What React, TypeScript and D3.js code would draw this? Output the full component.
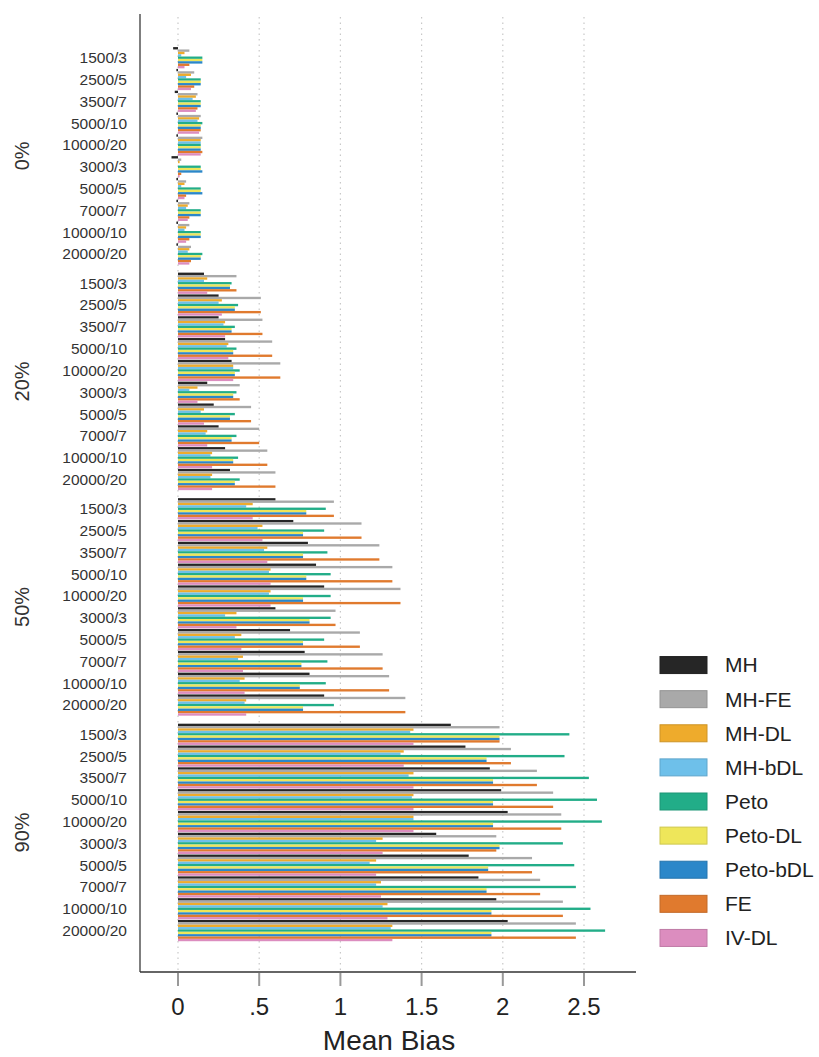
import React from 'react';
import * as d3 from 'd3';

const groups = ['0%', '20%', '50%', '90%'];
const categories = ['1500/3', '2500/5', '3500/7', '5000/10', '10000/20', '3000/3', '5000/5', '7000/7', '10000/10', '20000/20'];
const seriesNames = ['MH', 'MH-FE', 'MH-DL', 'MH-bDL', 'Peto', 'Peto-DL', 'Peto-bDL', 'FE', 'IV-DL'];
const seriesColors = ['#262626', '#a9a9a9', '#eeab2c', '#6ec0ea', '#22ad88', '#eee65a', '#2b87c9', '#e07a2e', '#dc8dbf'];
const xTicks = [0, 0.5, 1, 1.5, 2, 2.5];

// values per series, 40 each: groups 0%, 20%, 50%, 90% x 10 categories
const mh = [
  -0.03, -0.01, -0.02, -0.01, -0.01, -0.04, -0.01, -0.01, -0.01, -0.01,
  0.16, 0.25, 0.25, 0.29, 0.33, 0.18, 0.22, 0.25, 0.29, 0.32,
  0.60, 0.71, 0.80, 0.85, 0.90, 0.60, 0.69, 0.78, 0.81, 0.90,
  1.68, 1.77, 1.92, 1.99, 2.03, 1.59, 1.79, 1.85, 1.96, 2.03,
];
const mhFe = [
  0.07, 0.10, 0.12, 0.14, 0.15, 0.02, 0.05, 0.07, 0.07, 0.08,
  0.36, 0.51, 0.52, 0.58, 0.63, 0.38, 0.45, 0.50, 0.55, 0.60,
  0.96, 1.13, 1.24, 1.32, 1.37, 0.97, 1.12, 1.26, 1.30, 1.40,
  1.98, 2.05, 2.21, 2.31, 2.36, 1.96, 2.18, 2.23, 2.37, 2.45,
];
const mhDl = [
  0.04, 0.08, 0.11, 0.13, 0.14, 0.01, 0.04, 0.06, 0.05, 0.07,
  0.18, 0.27, 0.29, 0.31, 0.34, 0.12, 0.16, 0.18, 0.21, 0.21,
  0.46, 0.52, 0.55, 0.57, 0.57, 0.36, 0.39, 0.40, 0.41, 0.42,
  1.45, 1.39, 1.45, 1.45, 1.45, 1.26, 1.22, 1.25, 1.29, 1.32,
];
const mhBdl = [
  0.02, 0.05, 0.09, 0.12, 0.14, 0.00, 0.02, 0.05, 0.04, 0.06,
  0.16, 0.25, 0.28, 0.30, 0.34, 0.07, 0.14, 0.17, 0.20, 0.20,
  0.42, 0.49, 0.53, 0.56, 0.56, 0.29, 0.35, 0.37, 0.38, 0.41,
  1.43, 1.37, 1.42, 1.44, 1.45, 1.22, 1.18, 1.22, 1.26, 1.31,
];
const peto = [
  0.15, 0.14, 0.14, 0.15, 0.14, 0.14, 0.14, 0.14, 0.14, 0.15,
  0.33, 0.37, 0.35, 0.36, 0.38, 0.36, 0.35, 0.36, 0.37, 0.38,
  0.91, 0.90, 0.92, 0.94, 0.94, 0.94, 0.90, 0.92, 0.91, 0.96,
  2.41, 2.38, 2.53, 2.58, 2.61, 2.37, 2.44, 2.45, 2.54, 2.63,
];
const petoDl = [
  0.15, 0.14, 0.14, 0.14, 0.14, 0.14, 0.14, 0.14, 0.14, 0.14,
  0.32, 0.35, 0.33, 0.34, 0.35, 0.34, 0.32, 0.33, 0.34, 0.35,
  0.79, 0.77, 0.77, 0.79, 0.77, 0.81, 0.77, 0.76, 0.75, 0.77,
  1.98, 1.90, 1.94, 1.94, 1.94, 1.98, 1.91, 1.90, 1.93, 1.93,
];
const petoBdl = [
  0.15, 0.14, 0.14, 0.14, 0.14, 0.15, 0.15, 0.14, 0.14, 0.14,
  0.32, 0.35, 0.33, 0.34, 0.35, 0.34, 0.32, 0.33, 0.34, 0.35,
  0.79, 0.77, 0.77, 0.79, 0.77, 0.81, 0.77, 0.76, 0.75, 0.77,
  1.98, 1.90, 1.94, 1.94, 1.94, 1.98, 1.91, 1.90, 1.93, 1.93,
];
const fe = [
  0.07, 0.10, 0.12, 0.14, 0.15, 0.02, 0.05, 0.07, 0.07, 0.08,
  0.36, 0.51, 0.52, 0.58, 0.63, 0.38, 0.45, 0.50, 0.55, 0.60,
  0.96, 1.13, 1.24, 1.32, 1.37, 0.97, 1.12, 1.26, 1.30, 1.40,
  1.98, 2.05, 2.21, 2.31, 2.36, 1.96, 2.18, 2.23, 2.37, 2.45,
];
const ivDl = [
  0.04, 0.08, 0.11, 0.13, 0.14, 0.01, 0.04, 0.06, 0.05, 0.07,
  0.18, 0.27, 0.29, 0.31, 0.34, 0.12, 0.16, 0.18, 0.21, 0.21,
  0.46, 0.52, 0.55, 0.57, 0.57, 0.36, 0.39, 0.40, 0.41, 0.42,
  1.45, 1.39, 1.45, 1.45, 1.45, 1.26, 1.22, 1.25, 1.29, 1.32,
];
const seriesValues = [mh, mhFe, mhDl, mhBdl, peto, petoDl, petoBdl, fe, ivDl];

const W = 819;
const H = 1057;
const FONT = '"Liberation Sans", Arial, sans-serif';

const App: React.FC = () => {
  const axisLeft = 140;
  const axisRight = 636;
  const axisTop = 14;
  const axisBottom = 972;

  const x = d3.scaleLinear().domain([0, 2.5]).range([178, 584]);
  const yGroup = d3.scaleBand<string>().domain(groups).range([46.8, 941.5]).paddingInner(0.033);
  const yCat = d3.scaleBand<string>().domain(categories).range([0, yGroup.bandwidth()]);
  const ySeries = d3.scaleBand<string>().domain(seriesNames).range([0, yCat.bandwidth()]).paddingOuter(0.12);

  const fmt = (d: number) => d3.format('')(d).replace(/^0\./, '.');

  const legendY = d3.scaleBand<string>().domain(seriesNames).range([648, 955]);

  return (
    <svg width={W} height={H} style={{ position: 'absolute', left: 0, top: 0, background: '#fff' }} fontFamily={FONT}>
      {/* grid */}
      {xTicks.map((t) => (
        <line key={'g' + t} x1={x(t)} x2={x(t)} y1={axisTop + 3} y2={axisBottom - 2}
          stroke="#c8c8c8" strokeWidth={1.2} strokeDasharray="1.5 4" />
      ))}

      {/* bars */}
      {groups.map((g, gi) =>
        categories.map((c, ci) =>
          seriesNames.map((s, si) => {
            const v = seriesValues[si][gi * categories.length + ci];
            const y0 = (yGroup(g) as number) + (yCat(c) as number) + (ySeries(s) as number);
            return (
              <rect key={g + c + s} x={Math.min(x(0), x(v))} width={Math.abs(x(v) - x(0))}
                y={y0} height={ySeries.bandwidth()} fill={seriesColors[si]} />
            );
          })
        )
      )}

      {/* category labels */}
      {groups.map((g) =>
        categories.map((c) => (
          <text key={'l' + g + c} x={127} y={(yGroup(g) as number) + (yCat(c) as number) + yCat.bandwidth() / 2}
            dy="0.35em" textAnchor="end" fontSize={15.5} fill="#333">{c}</text>
        ))
      )}

      {/* group labels */}
      {groups.map((g) => {
        const cy = (yGroup(g) as number) + yGroup.bandwidth() / 2;
        return (
          <text key={'gl' + g} transform={`translate(22,${cy}) rotate(-90)`} textAnchor="middle"
            dy="0.35em" fontSize={20} fill="#333">{g}</text>
        );
      })}

      {/* axes */}
      <line x1={axisLeft} x2={axisLeft} y1={axisTop} y2={axisBottom} stroke="#555" strokeWidth={1.5} />
      <line x1={axisLeft} x2={axisRight} y1={axisBottom} y2={axisBottom} stroke="#333" strokeWidth={1.5} />
      {xTicks.map((t) => (
        <g key={'t' + t}>
          <line x1={x(t)} x2={x(t)} y1={axisBottom + 1} y2={axisBottom + 14} stroke="#999" strokeWidth={2} />
          <text x={x(t)} y={1007} dy="0.35em" textAnchor="middle" fontSize={24} fill="#222">{fmt(t)}</text>
        </g>
      ))}
      <text x={(axisLeft + axisRight) / 2 + 1} y={1040} dy="0.35em" textAnchor="middle" fontSize={28} fill="#222">Mean Bias</text>

      {/* legend */}
      {seriesNames.map((s, i) => {
        const cy = (legendY(s) as number) + legendY.bandwidth() / 2;
        return (
          <g key={'lg' + s}>
            <rect x={660} y={cy - 8.5} width={47} height={17} fill={seriesColors[i]}
              stroke={d3.color(seriesColors[i])!.darker(0.4).toString()} strokeWidth={1} />
            <text x={725} y={cy} dy="0.35em" fontSize={21} fill="#222">{s}</text>
          </g>
        );
      })}
    </svg>
  );
};

export default App;
